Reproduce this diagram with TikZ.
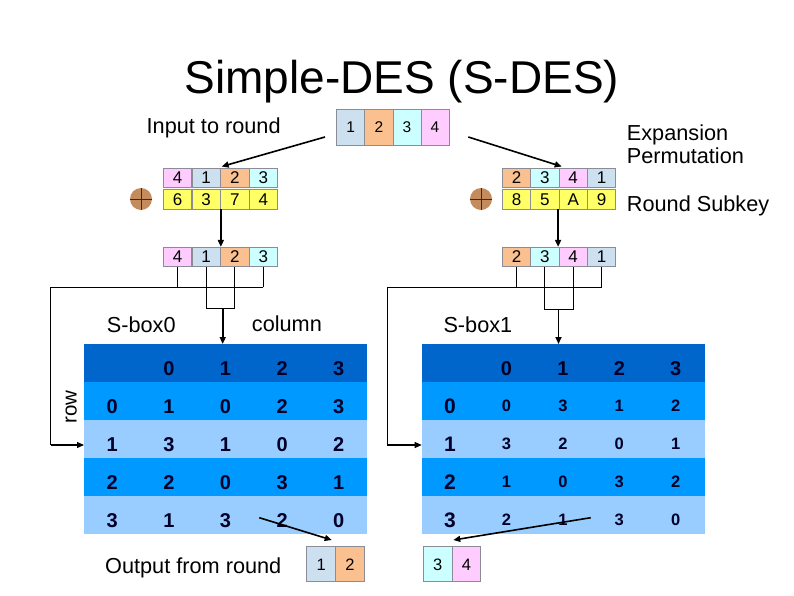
\documentclass[tikz,border=0pt]{standalone}
\usepackage{fontspec}
\setmainfont{Liberation Sans}
\usetikzlibrary{arrows.meta,calc}
\definecolor{cLB}{RGB}{204,224,240}
\definecolor{cPe}{RGB}{250,192,143}
\definecolor{cCy}{RGB}{204,255,255}
\definecolor{cPk}{RGB}{255,204,255}
\definecolor{cYe}{RGB}{255,255,102}
\definecolor{cBorder}{RGB}{140,140,150}
\definecolor{cBrown}{RGB}{196,140,92}
\definecolor{cCross}{RGB}{60,40,30}
\definecolor{cHead}{RGB}{0,102,204}
\definecolor{cMid}{RGB}{0,153,255}
\definecolor{cLight}{RGB}{153,204,255}
\definecolor{cNum}{RGB}{0,0,40}
\begin{document}
\begin{tikzpicture}[x=1pt,y=-1pt,
  lbl/.style={inner sep=0pt,anchor=base west,font=\fontsize{21.7}{22}\selectfont},
  inbox/.style={draw=cBorder,line width=0.8pt,inner sep=0pt,minimum width=28.1pt,minimum height=36pt,text height=11pt,text depth=0pt,font=\fontsize{15.5}{16}\selectfont},
  expbox/.style={draw=cBorder,line width=0.8pt,inner sep=0pt,minimum width=28.5pt,minimum height=19pt,text height=12.2pt,text depth=0pt,font=\fontsize{17}{17}\selectfont},
  outbox/.style={draw=cBorder,line width=0.8pt,inner sep=0pt,minimum width=28.8pt,minimum height=35pt,text height=12pt,text depth=0pt,font=\fontsize{16.5}{17}\selectfont},
  tnum/.style={inner sep=0pt,text height=14.3pt,text depth=0pt,text=cNum,font=\fontsize{20}{20}\selectfont\bfseries},
  tsmall/.style={inner sep=0pt,text height=11.8pt,text depth=0pt,text=cNum,font=\fontsize{16.5}{17}\selectfont\bfseries},
  tbig/.style={inner sep=0pt,text height=15pt,text depth=0pt,text=cNum,font=\fontsize{21}{21}\selectfont\bfseries},
  xorc/.style={circle,fill=cBrown,minimum size=22pt,inner sep=0pt},
  thickarrow/.style={line width=1.6pt,-{Triangle[length=7pt,width=6pt]}},
  thin/.style={line width=0.9pt},
  thinarrow/.style={line width=1.1pt,-{Triangle[length=7pt,width=6pt]}}
]
\useasboundingbox (0,0) rectangle (794,595);
\fill[white] (0,0) rectangle (794,595);

% title
\node[inner sep=0pt,anchor=base,font=\fontsize{46}{48}\selectfont] (title) at (402,93) {Simple-DES (S-DES)};

% input
\node[lbl] (inlbl) at (146.5,133) {Input to round};
\foreach \t/\c [count=\i] in {1/cLB,2/cPe,3/cCy,4/cPk}
  \node[inbox,fill=\c] (in\i) at ({336.7+28.1*(\i-0.5)},127) {\t};

% left expansion
\foreach \t/\c [count=\i] in {4/cPk,1/cLB,2/cPe,3/cCy}
  \node[expbox,fill=\c] (le\i) at ({163.3+28.6*(\i-0.5)},177.5) {\t};
\foreach \t [count=\i] in {6,3,7,4}
  \node[expbox,fill=cYe,minimum height=20pt] (lk\i) at ({163.3+28.6*(\i-0.5)},199) {\t};
\foreach \t/\c [count=\i] in {4/cPk,1/cLB,2/cPe,3/cCy}
  \node[expbox,fill=\c] (lr\i) at ({163.3+28.6*(\i-0.5)},256.8) {\t};
\node[xorc] (lx) at (141,199) {};
\draw[cCross,line width=0.9pt] (lx.north)--(lx.south) (lx.west)--(lx.east);

% right expansion
\foreach \t/\c [count=\i] in {2/cPe,3/cCy,4/cPk,1/cLB}
  \node[expbox,fill=\c,minimum width=28.35pt] (re\i) at ({502.3+28.35*(\i-0.5)},177.5) {\t};
\foreach \t [count=\i] in {8,5,A,9}
  \node[expbox,fill=cYe,minimum width=28.35pt,minimum height=20pt] (rk\i) at ({502.3+28.35*(\i-0.5)},199) {\t};
\foreach \t/\c [count=\i] in {2/cPe,3/cCy,4/cPk,1/cLB}
  \node[expbox,fill=\c,minimum width=28.35pt] (rr\i) at ({502.3+28.35*(\i-0.5)},256.8) {\t};
\node[xorc] (rx) at (481,199) {};
\draw[cCross,line width=0.9pt] (rx.north)--(rx.south) (rx.west)--(rx.east);

\node[lbl] (explbl1) at (626.7,140) {Expansion};
\node[lbl] (explbl2) at (626.7,163.5) {Permutation};
\node[lbl] (sklbl) at (626.7,211) {Round Subkey};

% arrows from input
\coordinate (a1s) at (325,137);
\coordinate (a1e) at (221.7,166.5);
\draw[thickarrow] (a1s) -- (a1e);
\coordinate (a2s) at (468.3,137);
\coordinate (a2e) at (561.7,166.5);
\draw[thickarrow] (a2s) -- (a2e);

% vertical arrows
\draw[thickarrow] (lk2.south east) -- (lr2.north east);
\draw[thickarrow] ($(rk2.south east)+(-1.3,0)$) -- ($(rr2.north east)+(-1.3,0)$);

% tables backgrounds
\foreach \x in {84,421.7}{
  \fill[cHead] (\x,344) rectangle ++(283,38.2);
  \fill[cMid] (\x,382.2) rectangle ++(283,37.9);
  \fill[cLight] (\x,420.1) rectangle ++(283,37.8);
  \fill[cMid] (\x,457.9) rectangle ++(283,38);
  \fill[cLight] (\x,495.9) rectangle ++(283,38.4);
}

% left table
\foreach \v [count=\c] in {0,1,2,3}
  \node[tnum] (Lh\c) at ({84+56.6*(\c+0.5)},368) {\v};
\foreach \row [count=\r from 0] in {{0,1,0,2,3},{1,3,1,0,2},{2,2,0,3,1},{3,1,3,2,0}}{
  \foreach \v [count=\c from 0] in \row
    \node[tnum] (L\r c\c) at ({84+56.6*(\c+0.5)},{406.5+38.06*\r}) {\v};
}
% right table
\foreach \v [count=\c] in {0,1,2,3}
  \node[tnum] (Rh\c) at ({421.7+56.46*(\c+0.5)},368) {\v};
\foreach \row [count=\r from 0] in {{0,3,1,2},{3,2,0,1},{1,0,3,2},{2,1,3,0}}{
  \node[tbig] (R\r c0) at ({421.7+56.46*0.5},{406+38.06*\r}) {\r};
  \foreach \v [count=\c] in \row
    \node[tsmall] (R\r c\c) at ({421.7+56.46*(\c+0.5)},{405.5+38.06*\r}) {\v};
}

% labels
\node[lbl] (sb0) at (106.7,332) {S-box0};
\node[lbl] (collbl) at (251.7,331) {column};
\node[lbl] (sb1) at (443.3,332) {S-box1};
\node[inner sep=0pt,anchor=base,rotate=90,font=\fontsize{20.5}{21}\selectfont] (rowlbl) at (76.7,406.7) {row};

% left tree
\coordinate (lbar) at (50.7,287.3);
\coordinate (lrowin) at (50.7,445);
\coordinate (ltabin) at (84,445);
\draw[thin] (lr1.south) -- (lr1.south |- lbar);
\draw[thin] (lr4.south) -- (lr4.south |- lbar);
\draw[thin] (lr4.south |- lbar) -- (lbar) -- (lrowin);
\draw[thinarrow] (lrowin) -- (ltabin);
\coordinate (lcolbar) at (222.7,308.3);
\draw[thin] (lr2.south) -- (lr2.south |- lcolbar) -- (lr3.south |- lcolbar) -- (lr3.south);
\coordinate (ltabtop) at (222.7,344);
\draw[thickarrow] (lcolbar) -- (ltabtop);

% right tree
\coordinate (rbar) at (387.3,287.3);
\coordinate (rrowin) at (387.3,445);
\coordinate (rtabin) at (421.7,445);
\draw[thin] (rr1.south) -- (rr1.south |- rbar);
\draw[thin] (rr4.south) -- (rr4.south |- rbar);
\draw[thin] (rr4.south |- rbar) -- (rbar) -- (rrowin);
\draw[thinarrow] (rrowin) -- (rtabin);
\coordinate (rcolbar) at (558.5,309);
\draw[thin] (rr2.south) -- (rr2.south |- rcolbar) -- (rr3.south |- rcolbar) -- (rr3.south);
\coordinate (rtabtop) at (558.5,344);
\draw[thickarrow] (rcolbar) -- (rtabtop);

% outputs
\node[lbl] (outlbl) at (105,573.3) {Output from round};
\node[outbox,fill=cLB] (lo1) at (321.1,564.2) {1};
\node[outbox,fill=cPe] (lo2) at (349.9,564.2) {2};
\node[outbox,fill=cCy] (ro1) at (437.6,564.2) {3};
\node[outbox,fill=cPk] (ro2) at (466.4,564.2) {4};

\coordinate (lout1) at (259.3,517.7);
\coordinate (lout2) at (331.7,540);
\draw[thickarrow] (lout1) -- (lout2);
\coordinate (rout1) at (590.7,517.7);
\coordinate (rout2) at (453.3,540);
\draw[thickarrow] (rout1) -- (rout2);
\end{tikzpicture}
\end{document}
